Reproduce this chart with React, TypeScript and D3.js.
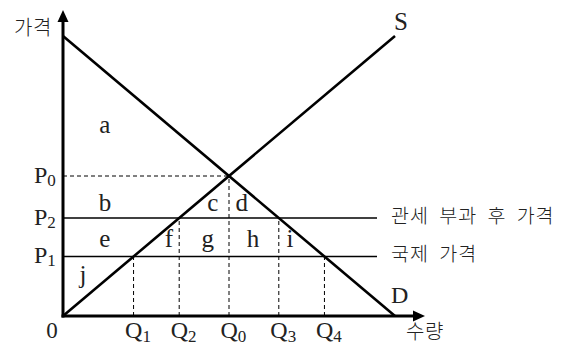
import React from "react";
import * as d3 from "d3";

// ---- data ----
const demandPoints: [number, number][] = [[0, 8], [8, 0]];
const supplyPoints: [number, number][] = [[0, 0], [8, 8]];
const equilibriumPrice = 4;
const equilibriumQty = 4;
const priceNames = ["P", "P", "P"];
const priceSubs = ["0", "2", "1"];
const priceValues = [4, 2.8, 1.7];
const qtyNames = ["Q", "Q", "Q", "Q", "Q"];
const qtySubs = ["1", "2", "0", "3", "4"];
const qtyValues = [1.7, 2.8, 4, 5.2, 6.3];
const areaLetters = ["a", "b", "c", "d", "e", "f", "g", "h", "i", "j"];
const areaQ = [1.01, 1.01, 3.61, 4.31, 1.01, 2.55, 3.49, 4.58, 5.47, 0.48];
const areaP = [5.23, 3.0, 3.0, 3.0, 1.97, 1.97, 1.97, 1.97, 1.97, 0.94];
const tariffLabel = "관세 부과 후 가격";
const worldLabel = "국제 가격";
const yAxisLabel = "가격";
const xAxisLabel = "수량";

const W = 571;
const H = 349;
const serif = "'Liberation Serif', 'DejaVu Serif', serif";
const kr = "'Noto Sans CJK KR', sans-serif";

export default function App() {
  const x = d3.scaleLinear().domain([0, 8]).range([63, 395]);
  const y = d3.scaleLinear().domain([0, 8]).range([316, 36]);
  const line = d3
    .line<[number, number]>()
    .x((d) => x(d[0]))
    .y((d) => y(d[1]));
  const xMax = x.invert(425);
  const yMax = y.invert(10);
  const hLineEnd = x.invert(377);

  return (
    <svg
      width={W}
      height={H}
      style={{ position: "absolute", left: 0, top: 0, background: "#fff" }}
    >
      {/* dashed guides */}
      <line
        x1={x(0)}
        x2={x(equilibriumQty)}
        y1={y(equilibriumPrice)}
        y2={y(equilibriumPrice)}
        stroke="#000"
        strokeWidth={1}
        strokeDasharray="4,3"
      />
      {qtyValues.map((q, i) => {
        const p = q <= equilibriumQty ? Math.max(q, 0) : 8 - q;
        const top = qtySubs[i] === "0" ? equilibriumPrice : p;
        return (
          <line
            key={"v" + i}
            x1={x(q)}
            x2={x(q)}
            y1={y(0)}
            y2={y(top)}
            stroke="#000"
            strokeWidth={1}
            strokeDasharray="4,3"
          />
        );
      })}
      {/* price lines */}
      {[priceValues[1], priceValues[2]].map((p, i) => (
        <line
          key={"h" + i}
          x1={x(0)}
          x2={x(hLineEnd)}
          y1={y(p)}
          y2={y(p)}
          stroke="#000"
          strokeWidth={1.3}
        />
      ))}
      {/* supply & demand */}
      <path d={line(demandPoints) || ""} stroke="#000" strokeWidth={2.6} fill="none" />
      <path d={line(supplyPoints) || ""} stroke="#000" strokeWidth={2.6} fill="none" />
      {/* axes */}
      <line x1={x(0)} x2={x(0)} y1={y(0) + 1.5} y2={y(yMax) + 8} stroke="#000" strokeWidth={3} />
      <path
        d={`M${x(0)},${y(yMax)} L${x(0) - 5.5},${y(yMax) + 12} L${x(0) + 5.5},${y(yMax) + 12} Z`}
        fill="#000"
      />
      <line x1={x(0) - 1.5} x2={x(xMax) - 8} y1={y(0)} y2={y(0)} stroke="#000" strokeWidth={3} />
      <path
        d={`M${x(xMax)},${y(0)} L${x(xMax) - 12},${y(0) - 5.5} L${x(xMax) - 12},${y(0) + 5.5} Z`}
        fill="#000"
      />
      {/* axis titles */}
      <text x={14} y={35} fontFamily={kr} fontSize={20} fontWeight={300} fill="#222" style={{ letterSpacing: "0.5px" }}>
        {yAxisLabel}
      </text>
      <text x={406} y={339} fontFamily={kr} fontSize={20} fontWeight={300} fill="#222" style={{ letterSpacing: "0.5px" }}>
        {xAxisLabel}
      </text>
      <text x={52} y={338} fontFamily={serif} fontSize={23} textAnchor="middle" fill="#222">
        0
      </text>
      {/* price labels */}
      {priceValues.map((p, i) => (
        <text key={"pl" + i} x={34} y={y(p) + 6.5} fontFamily={serif} fontSize={24} fill="#222">
          {priceNames[i]}
          <tspan fontSize={17} dy={3}>
            {priceSubs[i]}
          </tspan>
        </text>
      ))}
      {/* quantity labels */}
      {qtyValues.map((q, i) => (
        <text key={"ql" + i} x={x(q) - 8.5} y={338} fontFamily={serif} fontSize={24} fill="#222">
          {qtyNames[i]}
          <tspan fontSize={17} dy={4}>
            {qtySubs[i]}
          </tspan>
        </text>
      ))}
      {/* area letters */}
      {areaLetters.map((l, i) => (
        <text
          key={"a" + i}
          x={x(areaQ[i])}
          y={y(areaP[i])}
          fontFamily={serif}
          fontSize={25}
          textAnchor="middle"
          fill="#222"
        >
          {l}
        </text>
      ))}
      {/* curve labels */}
      <text x={394} y={30} fontFamily={serif} fontSize={25} fill="#222">
        S
      </text>
      <text x={391} y={303} fontFamily={serif} fontSize={24} fill="#222">
        D
      </text>
      {/* price line labels */}
      <text
        x={391}
        y={y(priceValues[1]) + 5}
        fontFamily={kr}
        fontSize={19.5}
        fontWeight={300}
        fill="#222"
        style={{ wordSpacing: "5px", letterSpacing: "1px" }}
      >
        {tariffLabel}
      </text>
      <text
        x={391}
        y={y(priceValues[2]) + 4}
        fontFamily={kr}
        fontSize={19.5}
        fontWeight={300}
        fill="#222"
        style={{ wordSpacing: "5px", letterSpacing: "1px" }}
      >
        {worldLabel}
      </text>
    </svg>
  );
}
